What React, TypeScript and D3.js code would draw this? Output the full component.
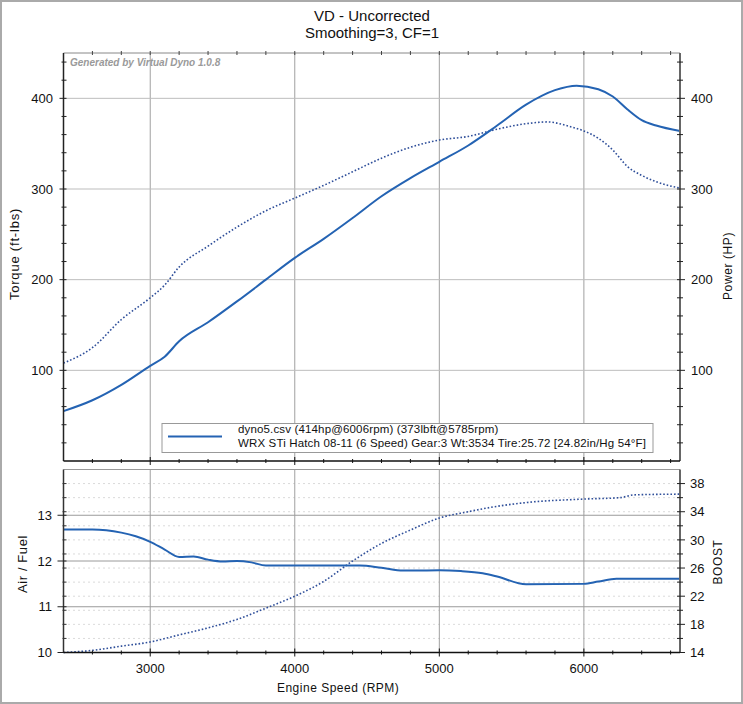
import React from "react";
import * as d3 from "d3";

// ---- data ----
const hpRpm = [2400, 2600, 2800, 3000, 3100, 3200, 3400, 3600, 3800, 4000, 4200, 4400, 4600, 4800, 5000, 5200, 5400, 5600, 5800, 5950, 6100, 6200, 6300, 6400, 6500, 6665];
const hpVals = [55, 67, 84, 105, 115, 132, 153, 176, 200, 224, 245, 268, 292, 312, 330, 348, 370, 393, 409, 414, 410, 402, 388, 376, 370, 364];

const tqRpm = [2400, 2600, 2800, 3000, 3100, 3200, 3400, 3600, 3800, 4000, 4200, 4400, 4600, 4800, 5000, 5200, 5400, 5600, 5750, 5900, 6000, 6100, 6200, 6300, 6400, 6500, 6665];
const tqVals = [108, 125, 156, 180, 194, 214, 237, 258, 276, 290, 304, 319, 334, 346, 354, 358, 366, 372, 374, 369, 364, 356, 343, 325, 315, 308, 301];

const afrRpm = [2400, 2600, 2800, 2900, 3000, 3100, 3200, 3300, 3400, 3500, 3600, 3700, 3800, 4000, 4300, 4450, 4600, 4750, 5000, 5150, 5300, 5400, 5600, 6000, 6100, 6225, 6665];
const afrVals = [12.69, 12.69, 12.62, 12.54, 12.42, 12.25, 12.09, 12.1, 12.03, 11.99, 12.0, 11.97, 11.9, 11.9, 11.9, 11.9, 11.85, 11.79, 11.8, 11.78, 11.73, 11.66, 11.49, 11.5, 11.55, 11.61, 11.61];

const boostRpm = [2400, 2600, 2800, 3000, 3200, 3400, 3600, 3800, 4000, 4200, 4400, 4600, 4800, 5000, 5200, 5350, 5600, 6000, 6250, 6350, 6665];
const boostVals = [14.0, 14.3, 14.9, 15.5, 16.5, 17.5, 18.7, 20.3, 22.0, 24.1, 27.0, 29.5, 31.4, 33.1, 34.0, 34.6, 35.3, 35.8, 36.0, 36.4, 36.5];

const rpmLabels = [3000, 4000, 5000, 6000];
const powerLabels = [100, 200, 300, 400];
const afrLabels = [10, 11, 12, 13];
const boostLabels = [14, 18, 22, 26, 30, 34, 38];

const titleLines = ["VD - Uncorrected", "Smoothing=3, CF=1"];
const legendLines = [
  "dyno5.csv (414hp@6006rpm) (373lbft@5785rpm)",
  "WRX STi Hatch 08-11 (6 Speed) Gear:3 Wt:3534 Tire:25.72 [24.82in/Hg 54°F]",
];

const FONT = "'Liberation Sans', Arial, sans-serif";
const BLUE = "#2463b3";
const DOT = "#2f4f9a";

export default function App() {
  const L = 63.5, R = 680;
  const T1 = 53, B1 = 461;
  const T2 = 469.5, B2 = 652.5;

  const x = d3.scaleLinear().domain([2400, 6665]).range([L, R]);
  const yP = d3.scaleLinear().domain([0, 450]).range([B1, T1]);
  const yA = d3.scaleLinear().domain([10, 14]).range([B2, T2]);
  const yB = d3.scaleLinear().domain([14, 40]).range([B2, T2]);

  const mk = (xs: number[], ys: number[], ys2: (v: number) => number) =>
    d3.line<number>().x((_, i) => x(xs[i])).y((v) => ys2(v)).curve(d3.curveMonotoneX)(ys) || "";

  const hpPath = mk(hpRpm, hpVals, yP);
  const tqPath = mk(tqRpm, tqVals, yP);
  const afrPath = mk(afrRpm, afrVals, yA);
  const boostPath = mk(boostRpm, boostVals, yB);

  const rpmMinor = d3.range(2600, 6665, 200);
  const pMinor = d3.range(20, 450, 20);
  const bMinor = d3.range(16, 40, 2);

  return (
    <>
      <style>{"body{margin:0}"}</style>
      <svg width={743} height={704} style={{ display: "block", background: "#fff" }} fontFamily={FONT}>
        <rect x={1} y={1} width={741} height={702} fill="#fff" stroke="#aaa" strokeWidth={2} />
        {titleLines.map((t, i) => (
          <text key={t} x={372} y={21 + i * 17} textAnchor="middle" fontSize={15} fill="#111">{t}</text>
        ))}

        {/* ---------- top panel ---------- */}
        <g>
          {rpmLabels.map((r) => (
            <line key={"vg" + r} x1={x(r)} x2={x(r)} y1={T1} y2={B1} stroke="#a0a0a0" strokeWidth={1} />
          ))}
          {powerLabels.map((p) => (
            <line key={"hg" + p} x1={L} x2={R} y1={yP(p)} y2={yP(p)} stroke="#bdbdbd" strokeWidth={1} />
          ))}
          <line x1={L} x2={R} y1={T1} y2={T1} stroke="#888" strokeWidth={1} />
          {rpmMinor.map((r) => (
            <line key={"tt" + r} x1={x(r)} x2={x(r)} y1={T1 - 2} y2={T1 + 2} stroke="#444" strokeWidth={1} />
          ))}
          <text x={70} y={66} fontSize={10} fontStyle="italic" fontWeight="bold" fill="#9a9a9a">Generated by Virtual Dyno 1.0.8</text>

          <path d={tqPath} fill="none" stroke={DOT} strokeWidth={1.6} strokeDasharray="1.6,2" />
          <path d={hpPath} fill="none" stroke={BLUE} strokeWidth={2} />

          {/* left axis */}
          <line x1={L} x2={L} y1={T1} y2={B1} stroke="#222" strokeWidth={1.5} />
          {pMinor.map((p) => (
            <line key={"lt" + p} x1={p % 100 === 0 ? L - 4 : L - 2} x2={L + 3} y1={yP(p)} y2={yP(p)} stroke="#222" strokeWidth={1} />
          ))}
          {powerLabels.map((p) => (
            <text key={"ll" + p} x={53} y={yP(p)} dy="0.36em" textAnchor="end" fontSize={13} fill="#111">{p}</text>
          ))}
          {/* right axis */}
          <line x1={R} x2={R} y1={T1} y2={B1} stroke="#666" strokeWidth={2} />
          {pMinor.map((p) => (
            <line key={"rt" + p} x1={R - 3} x2={p % 100 === 0 ? R + 5 : R + 3} y1={yP(p)} y2={yP(p)} stroke="#222" strokeWidth={1} />
          ))}
          {powerLabels.map((p) => (
            <text key={"rl" + p} x={691} y={yP(p)} dy="0.36em" textAnchor="start" fontSize={13} fill="#111">{p}</text>
          ))}
          {/* bottom axis */}
          <line x1={L} x2={R} y1={B1} y2={B1} stroke="#111" strokeWidth={1.5} />
          {rpmMinor.map((r) => (
            <line key={"bt" + r} x1={x(r)} x2={x(r)} y1={r % 1000 === 0 ? B1 - 4 : B1 - 2} y2={r % 1000 === 0 ? B1 + 4 : B1 + 2} stroke="#111" strokeWidth={1} />
          ))}

          <text transform={`translate(19,254) rotate(-90)`} textAnchor="middle" fontSize={13} letterSpacing={0.8} fill="#111">Torque (ft-lbs)</text>
          <text transform={`translate(732,266) rotate(-90)`} textAnchor="middle" fontSize={12} letterSpacing={0.6} fill="#111">Power (HP)</text>

          {/* legend */}
          <rect x={162} y={423.5} width={491} height={29} fill="#fff" stroke="#999" strokeWidth={1} />
          <line x1={168} x2={222} y1={436.5} y2={436.5} stroke={BLUE} strokeWidth={1.8} />
          {legendLines.map((t, i) => (
            <text key={t} x={238} y={433 + i * 14} fontSize={11.5} letterSpacing={0.15} fill="#111">{t}</text>
          ))}
        </g>

        {/* ---------- bottom panel ---------- */}
        <g>
          {bMinor.map((b) => (
            <line key={"dg" + b} x1={L} x2={R} y1={yB(b)} y2={yB(b)} stroke="#b5b5b5" strokeWidth={1} strokeDasharray="1,4" />
          ))}
          {rpmLabels.map((r) => (
            <line key={"vg2" + r} x1={x(r)} x2={x(r)} y1={T2} y2={B2} stroke="#a0a0a0" strokeWidth={1} />
          ))}
          {afrLabels.slice(1).map((a) => (
            <line key={"ag" + a} x1={L} x2={R} y1={yA(a)} y2={yA(a)} stroke="#9a9a9a" strokeWidth={1} />
          ))}
          <line x1={L} x2={R} y1={T2} y2={T2} stroke="#999" strokeWidth={1} />

          <path d={boostPath} fill="none" stroke={DOT} strokeWidth={1.6} strokeDasharray="1.6,2" />
          <path d={afrPath} fill="none" stroke={BLUE} strokeWidth={2} />

          {/* left axis */}
          <line x1={L} x2={L} y1={T2} y2={B2} stroke="#333" strokeWidth={1.5} />
          {bMinor.map((b) => (
            <line key={"lb" + b} x1={L - 1} x2={L + 3} y1={yB(b)} y2={yB(b)} stroke="#333" strokeWidth={1} />
          ))}
          {afrLabels.map((a) => (
            <line key={"la" + a} x1={L - 6} x2={L + 3} y1={yA(a)} y2={yA(a)} stroke="#222" strokeWidth={1} />
          ))}
          {afrLabels.map((a) => (
            <text key={"al" + a} x={52} y={yA(a)} dy="0.36em" textAnchor="end" fontSize={13} fill="#111">{a}</text>
          ))}
          {/* right axis */}
          <line x1={R} x2={R} y1={T2} y2={B2} stroke="#666" strokeWidth={2} />
          {bMinor.concat([14]).map((b) => (
            <line key={"rb" + b} x1={R - 3} x2={(b - 14) % 4 === 0 ? R + 5 : R + 3} y1={yB(b)} y2={yB(b)} stroke="#222" strokeWidth={1} />
          ))}
          {boostLabels.map((b) => (
            <text key={"bl" + b} x={690} y={yB(b)} dy="0.36em" textAnchor="start" fontSize={13} fill="#111">{b}</text>
          ))}
          {/* bottom axis */}
          <line x1={L} x2={R} y1={B2} y2={B2} stroke="#111" strokeWidth={1.5} />
          {rpmMinor.map((r) => (
            <line key={"bb" + r} x1={x(r)} x2={x(r)} y1={r % 1000 === 0 ? B2 - 4 : B2 - 2} y2={r % 1000 === 0 ? B2 + 4 : B2 + 2} stroke="#111" strokeWidth={1} />
          ))}
          {rpmLabels.map((r) => (
            <text key={"xl" + r} x={x(r)} y={673} textAnchor="middle" fontSize={13} fill="#111">{r}</text>
          ))}
          <text x={x(4300)} y={692} textAnchor="middle" fontSize={12} letterSpacing={0.5} fill="#111">Engine Speed (RPM)</text>
          <text transform={`translate(27,564) rotate(-90)`} textAnchor="middle" fontSize={13} letterSpacing={0.6} fill="#111">Air / Fuel</text>
          <text transform={`translate(722,562) rotate(-90)`} textAnchor="middle" fontSize={12} letterSpacing={0.6} fill="#111">BOOST</text>
        </g>
      </svg>
    </>
  );
}
